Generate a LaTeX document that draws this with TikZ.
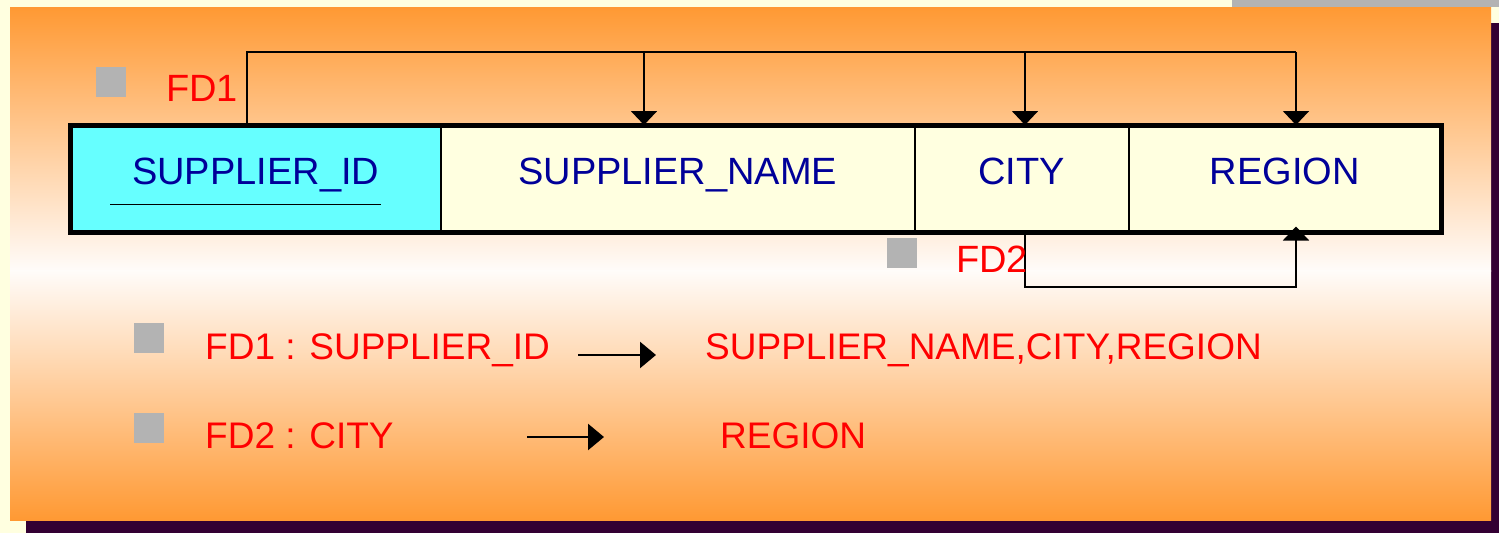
\documentclass[tikz,border=0pt]{standalone}
\usepackage{fontspec}
\setmainfont{Liberation Sans}
\usetikzlibrary{arrows.meta,calc}
\definecolor{bgyellow}{HTML}{FFFFE0}
\definecolor{panelorange}{HTML}{FF9933}
\definecolor{panelwhite}{HTML}{FFFCFA}
\definecolor{shadowpurple}{HTML}{330033}
\definecolor{bulletgray}{HTML}{B3B3B3}
\definecolor{keycyan}{HTML}{66FFFF}
\definecolor{cellyellow}{HTML}{FFFFE0}
\definecolor{tblue}{HTML}{000099}
\definecolor{tred}{HTML}{FF0000}
\begin{document}
\begin{tikzpicture}[x=1pt,y=-1pt,
  cell/.style={draw=black, line width=1.5pt, minimum height=106pt, inner sep=0pt,
    anchor=north west, text=tblue, font=\fontsize{38}{40}\selectfont,
    text height=27pt, text depth=15pt, fill=cellyellow},
  conn/.style={line width=2pt, draw=black},
  tip/.style={-{Triangle[width=26pt,length=14pt]}},
  bigtip/.style={line width=2.5pt, draw=black, -{Triangle[width=26pt,length=16pt]}},
  bullet/.style={fill=bulletgray, minimum size=30pt, inner sep=0pt, anchor=north west},
  fdlabel/.style={text=tred, font=\fontsize{38}{40}\selectfont, inner sep=0pt, anchor=base west},
  redtext/.style={text=tred, font=\fontsize{37}{40}\selectfont, inner sep=0pt, anchor=base west}]
\useasboundingbox (0,0) rectangle (1499,533);
% background
\fill[bgyellow] (0,0) rectangle (1499,533);
\fill[bulletgray] (1232,0) rectangle (1499,7);
\fill[shadowpurple] (26,23) rectangle (1499,533);
\shade[top color=panelorange, bottom color=panelwhite] (10,7) rectangle (1491,271);
\shade[top color=panelwhite, bottom color=panelorange] (10,270) rectangle (1491,520);
% table cells
\node[cell, fill=keycyan, minimum width=370pt] (c1) at (70,125) {SUPPLIER\_ID};
\node[cell, minimum width=474pt] (c2) at (440,125) {SUPPLIER\_NAME};
\node[cell, minimum width=214pt] (c3) at (914,125) {CITY};
\node[cell, minimum width=312pt] (c4) at (1128,125) {REGION};
\draw[line width=5pt] (c1.north west) rectangle (c4.south east);
\draw[line width=1.5pt] ($(c1.south west)+(40,-28)$) -- ($(c1.south west)+(311,-28)$);
% FD1 connectors
\coordinate (k0) at (247,52);
\coordinate (k1) at (644,52);
\coordinate (k2) at (1025,52);
\coordinate (k3) at (1296,52);
\draw[conn] (k0 |- c1.north) -- (k0) -- (k3);
\draw[conn,tip] (k1) -- (k1 |- c2.north);
\draw[conn,tip] (k2) -- (k2 |- c3.north);
\draw[conn,tip] (k3) -- (k3 |- c4.north);
% FD2 connector
\coordinate (m0) at (1025,287);
\coordinate (m1) at (1296,287);
\draw[conn,tip] (m0 |- c3.south) -- (m0) -- (m1) -- ($(m1 |- c4.south)+(0,-6)$);
% labels
\node[bullet] (b1) at (96,67) {};
\node[fdlabel] (fd1) at (166,101) {FD1};
\node[bullet] (b2) at (887,238) {};
\node[fdlabel] (fd2) at (956,272) {FD2};
% FD statements
\node[bullet] (b3) at (134,323) {};
\node[redtext] (l1) at (205,359) {FD1 : SUPPLIER\_ID};
\node[redtext] (r1) at (705,359) {SUPPLIER\_NAME,CITY,REGION};
\draw[bigtip] ($(r1.base west)+(-127,-4)$) -- ($(r1.base west)+(-49,-4)$);
\node[bullet] (b4) at (134,413) {};
\node[redtext] (l2) at (205,448) {FD2 : CITY};
\node[redtext] (r2) at (720,448) {REGION};
\draw[bigtip] ($(r2.base west)+(-193,-11)$) -- ($(r2.base west)+(-116,-11)$);
\end{tikzpicture}
\end{document}
